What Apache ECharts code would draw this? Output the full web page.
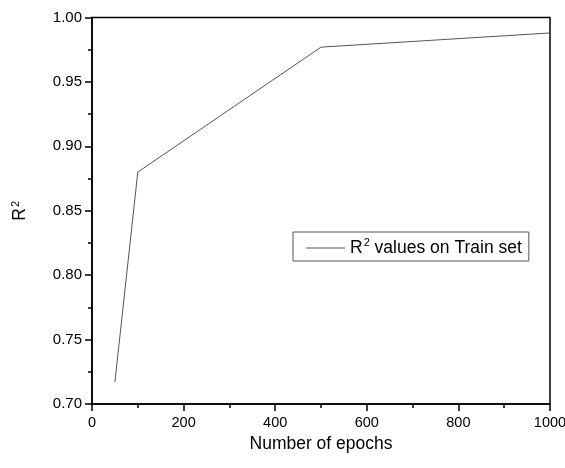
<!DOCTYPE html>
<html>
<head>
<meta charset="utf-8">
<script src="https://cdn.jsdelivr.net/npm/echarts@6/dist/echarts.min.js"></script>
<style>html,body{margin:0;padding:0;background:#fff}#c{width:565px;height:468px}</style>
</head>
<body>
<div id="c"></div>
<script>
var epochs = [50, 100, 500, 1000];
var r2Train = [0.717, 0.880, 0.977, 0.988];
var seriesName = 'R2 values on Train set';
var xTicks = [0, 200, 400, 600, 800, 1000];
var yTicks = [0.70, 0.75, 0.80, 0.85, 0.90, 0.95, 1.00];

var chart = echarts.init(document.getElementById('c'), null, {renderer: 'canvas'});
var font = '"Liberation Sans", Arial, sans-serif';
chart.setOption({
  animation: false,
  backgroundColor: '#fff',
  textStyle: {fontFamily: font},
  grid: {left: 92, right: 15, top: 17.5, bottom: 64, show: true, borderColor: '#000', borderWidth: 1.5,
    containLabel: false, outerBoundsMode: 'none'},
  legend: {
    show: true,
    left: 293, top: 232,
    orient: 'horizontal',
    backgroundColor: '#fff',
    borderColor: '#555', borderWidth: 1, borderRadius: 0,
    padding: [5, 7, 4, 13],
    icon: 'rect',
    itemWidth: 39, itemHeight: 1, itemGap: 5,
    itemStyle: {color: '#555'},
    data: [seriesName],
    formatter: function () { return '{r|R}{s|2}{r| values on Train set}'; },
    textStyle: {
      fontFamily: font, color: '#000', fontSize: 17.5,
      rich: {
        r: {fontFamily: font, fontSize: 17.5, color: '#000', lineHeight: 22},
        s: {fontFamily: font, fontSize: 11, color: '#000', verticalAlign: 'top', lineHeight: 22, padding: [0, 0, 8, 1]}
      }
    }
  },
  xAxis: {
    type: 'value', min: 0, max: 1000, interval: 200,
    name: 'Number of epochs', nameLocation: 'middle', nameGap: 28,
    nameTextStyle: {fontFamily: font, fontSize: 17.5, color: '#000'},
    axisLine: {show: true, lineStyle: {color: '#000', width: 1.5}},
    axisTick: {show: true, inside: false, length: 7, lineStyle: {color: '#000', width: 1.5}},
    minorTick: {show: true, splitNumber: 2, length: 4, lineStyle: {color: '#000', width: 1.5}},
    axisLabel: {fontFamily: font, fontSize: 14.5, color: '#000', margin: 11,
      formatter: function (v) { return xTicks.indexOf(v) >= 0 ? String(v) : ''; }},
    splitLine: {show: false}
  },
  yAxis: {
    type: 'value', min: 0.70, max: 1.00, interval: 0.05,
    name: '{r|R}{s|2}', nameLocation: 'middle', nameGap: 62, nameRotate: 90,
    nameTextStyle: {fontFamily: font, fontSize: 17.5, color: '#000',
      rich: {
        r: {fontFamily: font, fontSize: 17.5, color: '#000', lineHeight: 20},
        s: {fontFamily: font, fontSize: 11, color: '#000', verticalAlign: 'top', lineHeight: 20, padding: [0, 0, 8, 1]}
      }},
    axisLine: {show: true, lineStyle: {color: '#000', width: 1.5}},
    axisTick: {show: true, inside: false, length: 7, lineStyle: {color: '#000', width: 1.5}},
    minorTick: {show: true, splitNumber: 2, length: 4, lineStyle: {color: '#000', width: 1.5}},
    axisLabel: {fontFamily: font, fontSize: 15, color: '#000', margin: 10,
      formatter: function (v) {
        for (var i = 0; i < yTicks.length; i++) { if (Math.abs(yTicks[i] - v) < 1e-9) return yTicks[i].toFixed(2); }
        return '';
      }},
    splitLine: {show: false}
  },
  series: [{
    name: seriesName,
    type: 'line',
    data: epochs.map(function (e, i) { return [e, r2Train[i]]; }),
    symbol: 'none', showSymbol: false,
    lineStyle: {color: '#555', width: 1},
    itemStyle: {color: '#555'}
  }]
});
</script>
</body>
</html>
